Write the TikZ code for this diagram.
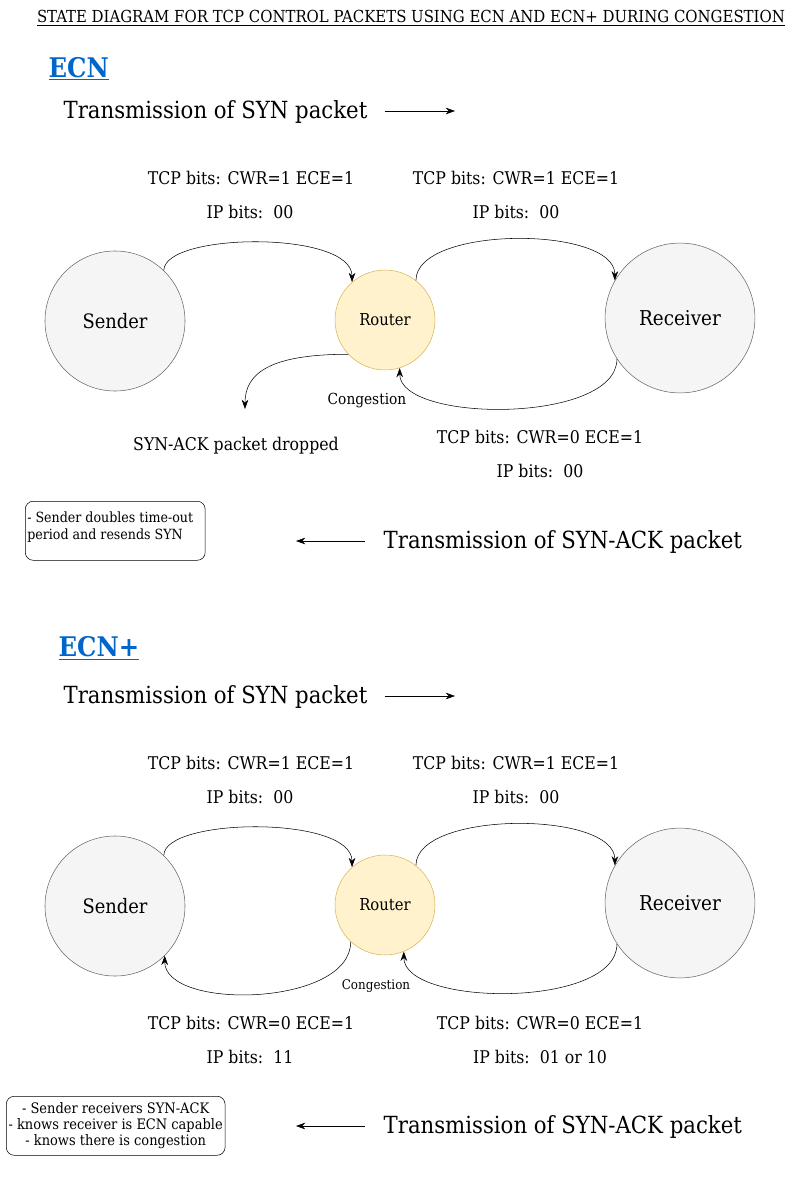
\documentclass[tikz,border=0pt]{standalone}
\usepackage{fontspec}
\setmainfont{DejaVu Serif Condensed}
\usetikzlibrary{arrows.meta}
\definecolor{hostfill}{HTML}{F5F5F5}
\definecolor{hostline}{HTML}{666666}
\definecolor{routerfill}{HTML}{FFF2CC}
\definecolor{routerline}{HTML}{D6B656}
\definecolor{headblue}{HTML}{0066CC}
\tikzset{
  host/.style={circle,draw=hostline,fill=hostfill,inner sep=0pt},
  router/.style={circle,draw=routerline,fill=routerfill,inner sep=0pt,minimum size=75.4pt,
    font=\fontsize{12.4}{14}\selectfont},
  bits/.style={font=\fontsize{13.2}{15}\selectfont},
  big/.style={font=\fontsize{17.8}{20}\selectfont},
  flow/.style={-{Stealth[length=7pt,width=5pt]},thin},
  note/.style={draw,rounded corners=6pt,minimum width=135.7pt,minimum height=44.5pt,inner sep=1pt}
}
\begin{document}
\begin{tikzpicture}[x=0.0265cm,y=-0.0265cm]
  \useasboundingbox (0,0) rectangle (801,1199);
  \node (title) at (411,18)
    {\fontsize{12.5}{14}\selectfont\underline{STATE DIAGRAM FOR TCP CONTROL PACKETS USING ECN AND ECN+ DURING CONGESTION}};
  % ECN
  \node (ecn head) [anchor=west,text=headblue,font=\fontsize{20.4}{22}\selectfont\bfseries] at (44,69)
    {\underline{ECN}};
  \node (syn text) [big,anchor=west] at (59,112) {Transmission of SYN packet};
  \coordinate (syn start) at (385,111);
  \coordinate (syn end) at (455,111);
  \draw [flow] (syn start) -- (syn end);
  \node (tcp a) [bits] at (251,178) {TCP bits: CWR=1 ECE=1};
  \node (ip a) [bits] at (250,212) {IP bits:\ \ 00};
  \node (tcp b) [bits] at (516,178) {TCP bits: CWR=1 ECE=1};
  \node (ip b) [bits] at (516,212) {IP bits:\ \ 00};
  \node (sender) [host,minimum size=105.6pt,font=\fontsize{15}{17}\selectfont] at (115,321) {Sender};
  \node (router) [router] at (385,320) {Router};
  \node (receiver) [host,minimum size=113pt,font=\fontsize{15.4}{17}\selectfont] at (680,318) {Receiver};
  \draw [flow]
    (sender.46)
    .. controls +(0,-38) and +(0,-52) ..
    (router.131)
  ;
  \draw [flow]
    (router.52)
    .. controls +(0,-55) and +(0,-55) ..
    (receiver.150)
  ;
  \draw [flow]
    (receiver.213)
    .. controls +(0,65) and +(0,55) ..
    (router.287)
  ;
  \node (cong a) [font=\fontsize{11.5}{13}\selectfont] at (367,401) {Congestion};
  \coordinate (drop end) at (245,409);
  \draw [flow]
    (router.223)
    .. controls +(-80,0) and +(0,-35) ..
    (drop end)
  ;
  \node (dropped) [bits] at (236,446) {SYN-ACK packet dropped};
  \node (tcp c) [bits] at (540,437) {TCP bits: CWR=0 ECE=1};
  \node (ip c) [bits] at (540,471) {IP bits:\ \ 00};
  \node (note a) [note,anchor=north west] at (25,501) {};
  \node (note a text) [anchor=north west,align=left,inner sep=0pt,font=\fontsize{10.6}{12.8}\selectfont] at (27,512)
    {- Sender doubles time-out\\ period and resends SYN};
  \coordinate (ack start) at (365,541);
  \coordinate (ack end) at (296,541);
  \draw [flow] (ack start) -- (ack end);
  \node (ack text) [big,anchor=west] at (379,542) {Transmission of SYN-ACK packet};
  % ECN+
  \node (ecnp head) [anchor=west,text=headblue,font=\fontsize{20.4}{22}\selectfont\bfseries] at (54,648)
    {\underline{ECN+}};
  \node (synp text) [big,anchor=west] at (59,697) {Transmission of SYN packet};
  \coordinate (synp start) at (385,696);
  \coordinate (synp end) at (455,696);
  \draw [flow] (synp start) -- (synp end);
  \node (tcp d) [bits] at (251,763) {TCP bits: CWR=1 ECE=1};
  \node (ip d) [bits] at (250,797) {IP bits:\ \ 00};
  \node (tcp e) [bits] at (516,763) {TCP bits: CWR=1 ECE=1};
  \node (ip e) [bits] at (516,797) {IP bits:\ \ 00};
  \node (sender2) [host,minimum size=105.6pt,font=\fontsize{15}{17}\selectfont] at (115,906) {Sender};
  \node (router2) [router] at (385,905) {Router};
  \node (receiver2) [host,minimum size=113pt,font=\fontsize{15.4}{17}\selectfont] at (680,903) {Receiver};
  \draw [flow]
    (sender2.46)
    .. controls +(0,-38) and +(0,-52) ..
    (router2.131)
  ;
  \draw [flow]
    (router2.52)
    .. controls +(0,-55) and +(0,-55) ..
    (receiver2.150)
  ;
  \draw [flow]
    (receiver2.213)
    .. controls +(0,65) and +(0,55) ..
    (router2.292)
  ;
  \node (cong b) [font=\fontsize{10}{12}\selectfont] at (376,986) {Congestion};
  \draw [flow]
    (router2.227)
    .. controls +(0,65) and +(0,55) ..
    (sender2.315)
  ;
  \node (tcp f) [bits] at (251,1023) {TCP bits: CWR=0 ECE=1};
  \node (ip f) [bits] at (250,1057) {IP bits:\ \ 11};
  \node (tcp g) [bits] at (540,1023) {TCP bits: CWR=0 ECE=1};
  \node (ip g) [bits] at (540,1057) {IP bits:\ \ 01 or 10};
  \node (note b) [note,minimum width=165pt,anchor=north west,align=center,font=\fontsize{10.9}{12}\selectfont] at (6,1096)
    {- Sender receivers SYN-ACK\\ - knows receiver is ECN capable\\ - knows there is congestion};
  \coordinate (ackp start) at (365,1126);
  \coordinate (ackp end) at (296,1126);
  \draw [flow] (ackp start) -- (ackp end);
  \node (ackp text) [big,anchor=west] at (379,1127) {Transmission of SYN-ACK packet};
\end{tikzpicture}
\end{document}
